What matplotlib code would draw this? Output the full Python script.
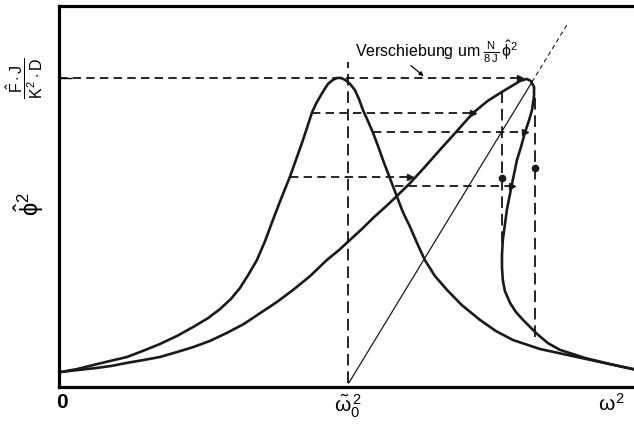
import matplotlib
matplotlib.use('Agg')
import matplotlib.pyplot as plt

plt.rcParams['font.family'] = ['Liberation Sans', 'DejaVu Sans']
plt.rcParams['mathtext.fontset'] = 'custom'
plt.rcParams['mathtext.rm'] = 'Liberation Sans'
plt.rcParams['mathtext.it'] = 'Liberation Sans'
plt.rcParams['mathtext.bf'] = 'Liberation Sans:bold'

# linear resonance curve (omega^2 / omega_0^2 , phi^2 normalised to peak)
lin_x = [0.010, 0.062, 0.118, 0.176, 0.235, 0.291, 0.349, 0.408, 0.464, 0.516,
         0.557, 0.595, 0.626, 0.657, 0.685, 0.713, 0.740, 0.768, 0.799, 0.820,
         0.841, 0.858, 0.875, 0.889, 0.903, 0.917, 0.931, 0.948, 0.962, 0.976,
         0.990, 1.007, 1.024, 1.038, 1.052, 1.069, 1.087, 1.104, 1.121, 1.145,
         1.170, 1.190, 1.215, 1.239, 1.266, 1.301, 1.343, 1.394, 1.457, 1.512,
         1.571, 1.664, 1.758, 1.872, 1.986]
lin_y = [0.049, 0.058, 0.071, 0.084, 0.097, 0.117, 0.139, 0.165, 0.194, 0.223,
         0.252, 0.285, 0.320, 0.366, 0.411, 0.472, 0.540, 0.608, 0.680, 0.735,
         0.790, 0.838, 0.887, 0.916, 0.939, 0.961, 0.981, 0.994, 1.000, 1.000,
         0.994, 0.981, 0.961, 0.932, 0.896, 0.861, 0.822, 0.780, 0.735, 0.676,
         0.615, 0.566, 0.518, 0.466, 0.411, 0.359, 0.314, 0.265, 0.217, 0.181,
         0.152, 0.123, 0.104, 0.081, 0.058]

# bent (nonlinear) curve: upper branch up to the peak, then the lower branch back down
nl_x = [0.010, 0.066, 0.125, 0.180, 0.235, 0.291, 0.349, 0.408, 0.464, 0.522,
        0.581, 0.640, 0.696, 0.754, 0.810, 0.869, 0.927, 0.969, 1.007, 1.048,
        1.087, 1.125, 1.163, 1.215, 1.266, 1.318, 1.374, 1.433, 1.484, 1.533,
        1.567, 1.595, 1.619, 1.633, 1.644, 1.644, 1.637, 1.626, 1.612, 1.599,
        1.585, 1.567, 1.550, 1.536, 1.533, 1.533, 1.536, 1.543, 1.561, 1.581,
        1.606, 1.654, 1.692, 1.734, 1.820, 1.907, 1.986]
nl_y = [0.049, 0.055, 0.061, 0.068, 0.078, 0.087, 0.097, 0.113, 0.129, 0.149,
        0.175, 0.204, 0.239, 0.275, 0.314, 0.359, 0.411, 0.443, 0.476, 0.511,
        0.547, 0.579, 0.612, 0.660, 0.712, 0.767, 0.825, 0.887, 0.926, 0.955,
        0.974, 0.990, 0.997, 0.990, 0.971, 0.942, 0.896, 0.861, 0.822, 0.777,
        0.735, 0.654, 0.573, 0.476, 0.427, 0.388, 0.346, 0.311, 0.272, 0.243,
        0.217, 0.172, 0.142, 0.120, 0.094, 0.074, 0.058]

# backbone line of the shift
bb_x = [1.003, 1.637]
bb_y = [0.013, 0.987]
bb_ext_x = [1.637, 1.758]
bb_ext_y = [0.987, 1.172]

# horizontal dashed construction lines: level, start, end
h_lev = [1.000, 0.887, 0.825, 0.680, 0.650]
h_x0 = [0.000, 0.875, 1.087, 0.799, 1.163]
h_x1 = [1.595, 1.433, 1.612, 1.215, 1.567]

# vertical dashed construction lines: position, bottom, top
v_pos = [1.000, 1.533, 1.647]
v_y0 = [0.013, 0.466, 0.162]
v_y1 = [1.052, 0.955, 0.951]

# arrow heads along the construction lines
arr_h_x = [1.595, 1.433, 1.612, 1.215, 1.567]
arr_h_y = [1.000, 0.887, 0.825, 0.680, 0.650]
arr_v_x = [1.533, 1.647]
arr_v_y = [0.676, 0.709]

fig = plt.figure(figsize=(6.34, 4.24), dpi=100)
ax = fig.add_axes([0.0931, 0.0873, 0.9069, 0.8986])

dash = (0, (5, 3.2))
for lev, a, b in zip(h_lev, h_x0, h_x1):
    ax.plot([a, b], [lev, lev], color='black', lw=1.2, linestyle=dash)
for p, a, b in zip(v_pos, v_y0, v_y1):
    ax.plot([p, p], [a, b], color='black', lw=1.2, linestyle=(0, (7, 3.5)))

ax.plot(lin_x, lin_y, color='#1a1a1a', lw=1.9, solid_joinstyle='round')
ax.plot(nl_x, nl_y, color='#1a1a1a', lw=1.9, solid_joinstyle='round')
ax.plot(bb_x, bb_y, color='#1a1a1a', lw=0.9)
ax.plot(bb_ext_x, bb_ext_y, color='#1a1a1a', lw=0.8, linestyle=(0, (4, 3)))

ax.plot(arr_h_x, arr_h_y, '>', color='#1a1a1a', ms=4.5, linestyle='none')
ax.plot(arr_v_x, arr_v_y, 'o', color='#1a1a1a', ms=4.5, linestyle='none')

ax.text(1.024, 1.068, r'Verschiebung um $\frac{N}{8\,J}\,\hat{\phi}^{2}$',
        fontsize=11.5, va='baseline', ha='left')
ax.annotate('', xy=(1.262, 1.006), xytext=(1.218, 1.040),
            arrowprops=dict(arrowstyle='-|>', color='black', lw=0.9,
                            mutation_scale=6, shrinkA=0, shrinkB=0))

ax.set_xlim(0, 1.990)
ax.set_ylim(0, 1.233)

ax.set_xticks([0.012, 1.0, 1.913])
ax.set_xticklabels([r'$\mathbf{0}$', r'$\tilde{\omega}_0^{\,2}$', r'$\omega^{2}$'],
                   fontsize=15)
ax.tick_params(axis='x', length=0, pad=4)

ax.set_yticks([1.0])
ax.set_yticklabels([r'$\dfrac{\hat{F}\cdot J}{K^{2}\cdot D}$'], rotation=90,
                   va='center', fontsize=11.5)
ax.tick_params(axis='y', direction='in', length=9, width=1, pad=10)

ax.set_ylabel(r'$\hat{\phi}^{2}$', fontsize=17, rotation=90, va='center')
ax.yaxis.set_label_coords(-0.052, 0.48)

for side in ['left', 'top', 'bottom']:
    ax.spines[side].set_linewidth(2.3)
ax.spines['right'].set_visible(False)

fig.savefig('out.png', dpi=100)
